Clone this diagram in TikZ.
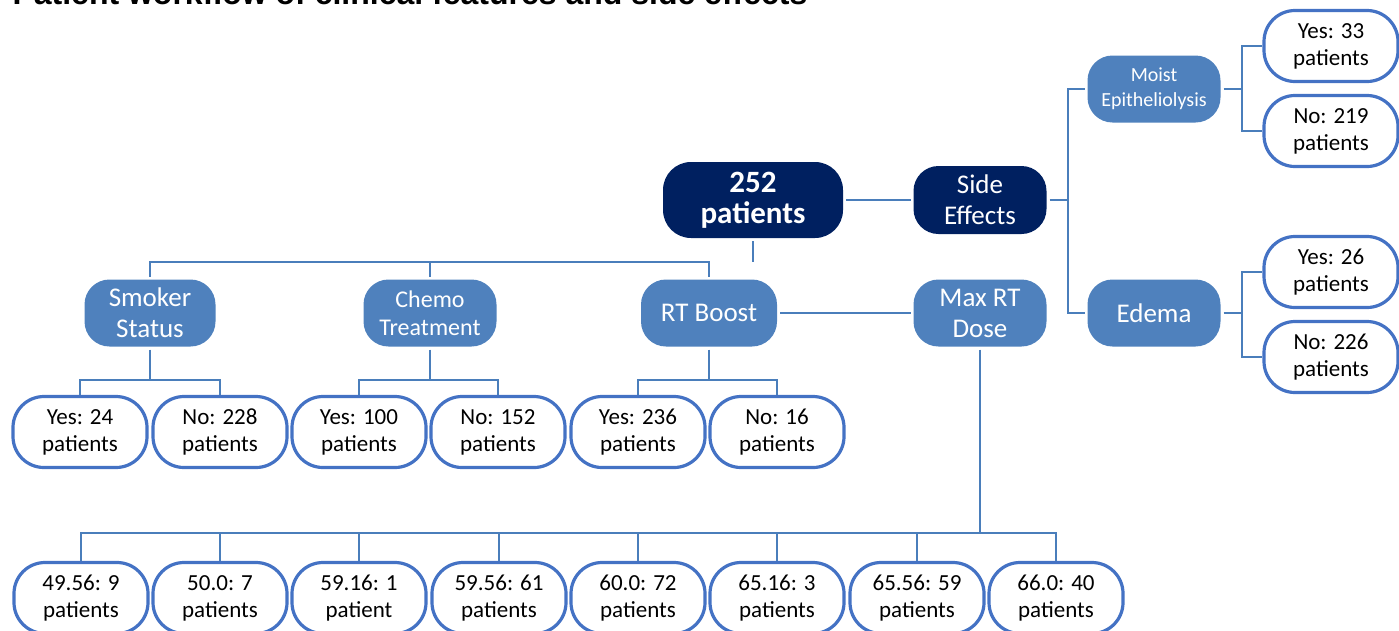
\documentclass[tikz,border=0pt]{standalone}
\usepackage{fontspec}
\setmainfont{Carlito}
\newfontfamily\titlefont{Liberation Sans}
\usepackage{tikz}

\definecolor{navy}{HTML}{002060}
\definecolor{midblue}{HTML}{4F81BD}
\definecolor{linkblue}{HTML}{4A7EBB}
\definecolor{leafblue}{HTML}{4472C4}

\tikzset{
	rootbox/.style={fill=navy, text=white, rounded corners=28pt, align=center,
		minimum width=180pt, minimum height=76pt, outer sep=3pt},
	topic/.style={fill=midblue, text=white, rounded corners=25pt, align=center,
		minimum width=133pt, minimum height=67pt, outer sep=3pt,
		font=\fontsize{27}{31}\selectfont},
	leaf/.style={draw=leafblue, line width=3.2pt, fill=white, rounded corners=31pt,
		align=center, minimum width=134pt, minimum height=71pt, outer sep=2pt,
		font=\fontsize{23}{27}\selectfont},
	link/.style={draw=linkblue, line width=2.6pt}
}

\begin{document}
\begin{tikzpicture}[x=1pt, y=-1pt]
	\useasboundingbox (0,0) rectangle (1399,630);

	\node[anchor=base west, font=\titlefont\bfseries\fontsize{32}{36}\selectfont] (title) at (9,4)
		{Patient workflow of clinical features and side effects};

		%top row
	\node[rootbox, font=\bfseries\fontsize{31}{31}\selectfont] (root) at (753,200) {252\\patients};
	\node[topic, fill=navy, minimum height=68pt] (side) at (980,200) {Side\\Effects};
	\node[topic, font=\fontsize{20}{25}\selectfont] (moist) at (1154,89) {Moist\\Epitheliolysis};
	\node[topic] (edema) at (1154,313) {Edema};

		%middle row
	\node[topic, minimum width=131pt] (smoker) at (150,313) {Smoker\\Status};
	\node[topic, font=\fontsize{24}{28}\selectfont] (chemo) at (430,313) {Chemo\\Treatment};
	\node[topic, minimum width=136pt] (rtboost) at (709,313) {RT Boost};
	\node[topic] (maxrt) at (980,313) {Max RT\\Dose};

		%side effect answers
	\node[leaf] (moistyes) at (1331,46) {Yes: 33\\patients};
	\node[leaf] (moistno) at (1331,131) {No: 219\\patients};
	\node[leaf] (edemayes) at (1331,272) {Yes: 26\\patients};
	\node[leaf] (edemano) at (1331,357) {No: 226\\patients};

		%feature answers
	\node[leaf] (smokeryes) at (80,432) {Yes: 24\\patients};
	\node[leaf] (smokerno) at (220,432) {No: 228\\patients};
	\node[leaf] (chemoyes) at (359,432) {Yes: 100\\patients};
	\node[leaf] (chemono) at (498,432) {No: 152\\patients};
	\node[leaf] (boostyes) at (638,432) {Yes: 236\\patients};
	\node[leaf] (boostno) at (777,432) {No: 16\\patients};

		%dose values
	\node[leaf] (dose1) at (81,598) {49.56: 9\\patients};
	\node[leaf] (dose2) at (220,598) {50.0: 7\\patients};
	\node[leaf] (dose3) at (359,598) {59.16: 1\\patient};
	\node[leaf] (dose4) at (499,598) {59.56: 61\\patients};
	\node[leaf] (dose5) at (638,598) {60.0: 72\\patients};
	\node[leaf] (dose6) at (777,598) {65.16: 3\\patients};
	\node[leaf] (dose7) at (917,598) {65.56: 59\\patients};
	\node[leaf] (dose8) at (1056,598) {66.0: 40\\patients};

	\coordinate (bar) at (430,262);
	\coordinate (sidejoint) at (1068,200);
	\coordinate (moistjoint) at (1242,89);
	\coordinate (edemajoint) at (1242,313);
	\coordinate (answers) at (0,380);
	\coordinate (doses) at (0,533);

		%root links
	\draw[link] (root) -- (side);
	\draw[link] (root.south) -- (root.south |- bar);
	\draw[link] (smoker.north) |- (rtboost.north |- bar) -- (rtboost.north);
	\draw[link] (chemo.north) -- (chemo.north |- bar);
	\draw[link] (rtboost) -- (maxrt);

		%side effect links
	\draw[link] (side.east) -- (sidejoint);
	\draw[link] (moist.west) -| (sidejoint) |- (edema.west);
	\draw[link] (moist.east) -- (moistjoint);
	\draw[link] (moistyes.west) -| (moistjoint) |- (moistno.west);
	\draw[link] (edema.east) -- (edemajoint);
	\draw[link] (edemayes.west) -| (edemajoint) |- (edemano.west);

		%feature links
	\draw[link] (smoker.south) -- (smoker.south |- answers);
	\draw[link] (smokeryes.north) |- (smokerno.north |- answers) -- (smokerno.north);
	\draw[link] (chemo.south) -- (chemo.south |- answers);
	\draw[link] (chemoyes.north) |- (chemono.north |- answers) -- (chemono.north);
	\draw[link] (rtboost.south) -- (rtboost.south |- answers);
	\draw[link] (boostyes.north) |- (boostno.north |- answers) -- (boostno.north);

		%dose links
	\draw[link] (maxrt.south) -- (maxrt.south |- doses);
	\draw[link] (dose1.north) |- (dose8.north |- doses) -- (dose8.north);
	\draw[link] (dose2.north) -- (dose2.north |- doses);
	\draw[link] (dose3.north) -- (dose3.north |- doses);
	\draw[link] (dose4.north) -- (dose4.north |- doses);
	\draw[link] (dose5.north) -- (dose5.north |- doses);
	\draw[link] (dose6.north) -- (dose6.north |- doses);
	\draw[link] (dose7.north) -- (dose7.north |- doses);
\end{tikzpicture}
\end{document}
